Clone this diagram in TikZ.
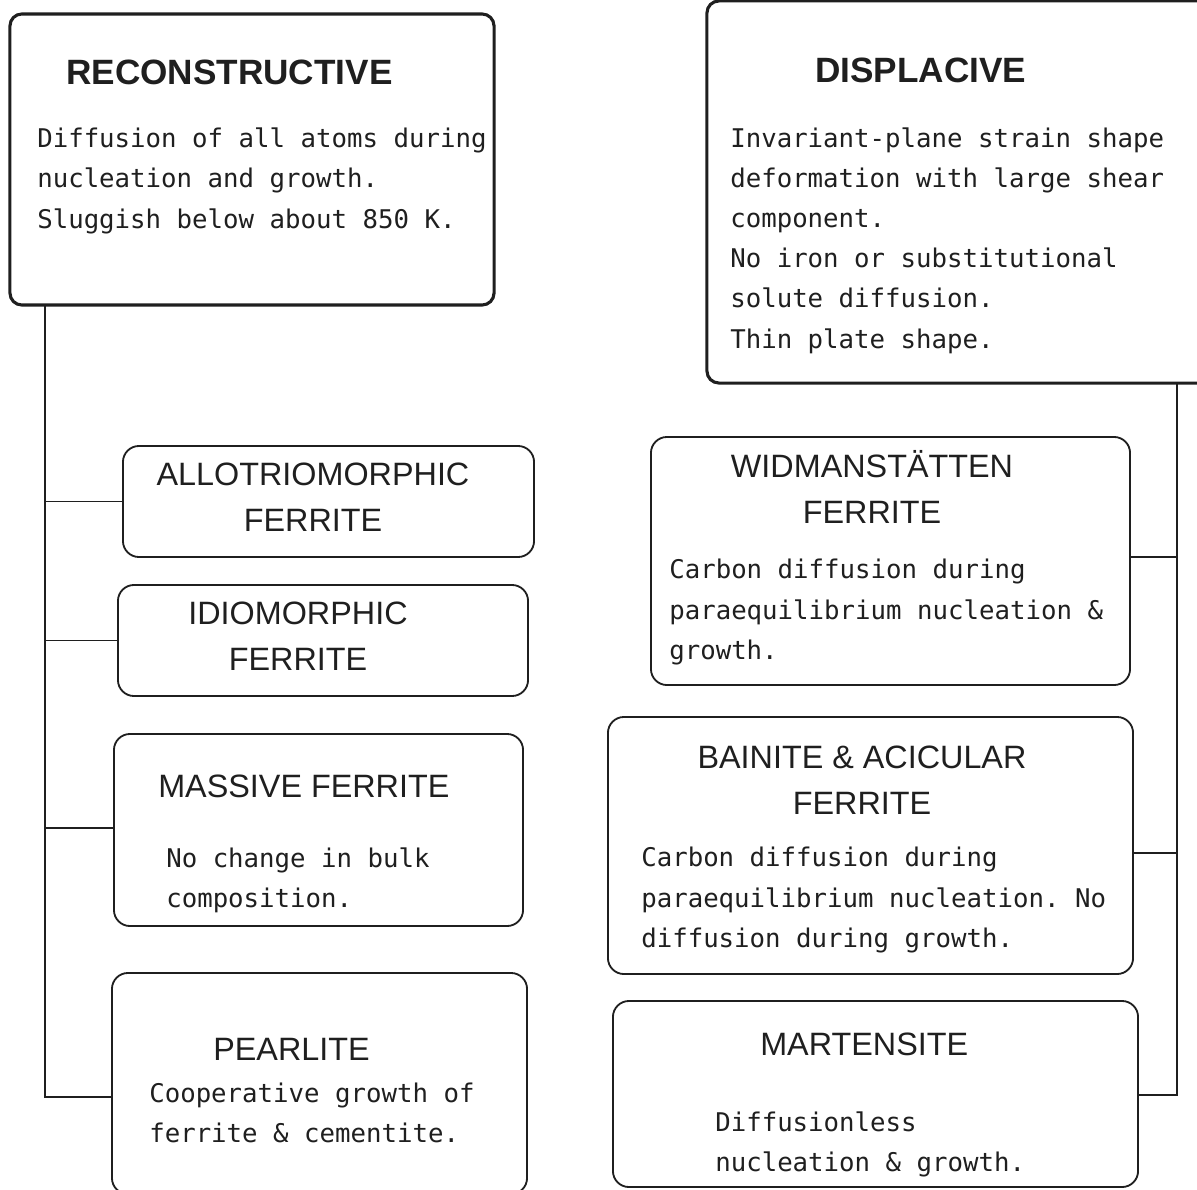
\documentclass[tikz,border=0pt]{standalone}
\usepackage{fontspec}
\usepackage{tikz}
\usetikzlibrary{positioning}
\newfontfamily\headfont{Liberation Sans}
\newfontfamily\bodyfont{DejaVu Sans Mono}
\definecolor{linecolor}{rgb}{0.12, 0.12, 0.12}
\frenchspacing

\begin{document}
\begin{tikzpicture}[x=0.025cm, y=-0.025cm,
			mainbox/.style={draw=linecolor, line width=2.2pt, rounded corners=0.3cm, inner sep=0pt},
			subbox/.style={draw=linecolor, line width=1.3pt, rounded corners=0.4cm, inner sep=0pt},
			heading/.style={font=\headfont\bfseries\fontsize{25}{30}\selectfont, text=linecolor, inner sep=0pt, anchor=base west},
			kind/.style={font=\headfont\fontsize{23}{32.7}\selectfont, text=linecolor, inner sep=0pt, align=center, anchor=base},
			notes/.style={font=\bodyfont\fontsize{18.3}{28.45}\selectfont, text=linecolor, inner sep=0pt, align=left, anchor=base west},
			link/.style={draw=linecolor, line width=1.3pt},
		]
		\useasboundingbox (0,0) rectangle (1197,1190);

		% the two families (text nodes sit on the baseline of their last line)
		\node[mainbox, minimum width=12.1cm, minimum height=7.275cm] (rec) at (252,159.5) {};
		\node[mainbox, minimum width=12.7cm, minimum height=9.55cm]  (dis) at (961,192)   {};

		\node[heading] (rec-t) at (66,84)  {RECONSTRUCTIVE};
		\node[notes]   (rec-b) at (37,228) {Diffusion of all atoms during\\nucleation and growth.\\Sluggish below about 850 K.};

		\node[heading] (dis-t) at (815,82)  {DISPLACIVE};
		\node[notes]   (dis-b) at (730,348) {Invariant-plane strain shape\\deformation with large shear\\component.\\No iron or substitutional\\solute diffusion.\\Thin plate shape.};

		% reconstructive products
		\node[subbox, minimum width=10.275cm, minimum height=2.775cm] (allo)  at (328.5,501.5)  {};
		\node[subbox, minimum width=10.25cm,  minimum height=2.775cm] (idio)  at (323,640.5)    {};
		\node[subbox, minimum width=10.225cm, minimum height=4.8cm]   (mass)  at (318.5,830)    {};
		\node[subbox, minimum width=10.375cm, minimum height=5.525cm] (pearl) at (319.5,1083.5) {};

		\node[kind] (allo-t) at (313,531) {ALLOTRIOMORPHIC\\FERRITE};
		\node[kind] (idio-t) at (298,670) {IDIOMORPHIC\\FERRITE};
		\node[kind, anchor=base west] (mass-t) at (158,797) {MASSIVE FERRITE};
		\node[notes] (mass-b) at (166,907) {No change in bulk\\composition.};
		\node[kind, anchor=base west] (pearl-t) at (213,1060) {PEARLITE};
		\node[notes] (pearl-b) at (149,1142) {Cooperative growth of\\ferrite \& cementite.};

		% displacive products
		\node[subbox, minimum width=11.975cm, minimum height=6.2cm]   (widm) at (890.5,561)  {};
		\node[subbox, minimum width=13.125cm, minimum height=6.425cm] (bain) at (870.5,845.5) {};
		\node[subbox, minimum width=13.125cm, minimum height=4.65cm]  (mart) at (875.5,1094) {};

		\node[kind]  (widm-t) at (872,523) {WIDMANSTÄTTEN\\FERRITE};
		\node[notes] (widm-b) at (669,659) {Carbon diffusion during\\paraequilibrium nucleation \&\\growth.};
		\node[kind]  (bain-t) at (862,814) {BAINITE \& ACICULAR\\FERRITE};
		\node[notes] (bain-b) at (641,947) {Carbon diffusion during\\paraequilibrium nucleation. No\\diffusion during growth.};
		\node[kind, anchor=base west] (mart-t) at (760,1055) {MARTENSITE};
		\node[notes] (mart-b) at (715,1171) {Diffusionless\\nucleation \& growth.};

		% trunks and branches
		\coordinate (lt) at (45,305);
		\coordinate (lb) at (45,1097);
		\coordinate (rt) at (1177,383);
		\coordinate (rb) at (1177,1095);

		\draw[link] (lt) -- (lb) -- (lb -| pearl.west);
		\draw[link] (allo.west) -- (allo.west -| lt);
		\draw[link] (idio.west) -- (idio.west -| lt);
		\draw[link] (mass.west |- 0,828) -- (lt |- 0,828);

		\draw[link] (rt) -- (rb) -- (rb -| mart.east);
		\draw[link] (widm.east |- 0,557) -- (rt |- 0,557);
		\draw[link] (bain.east |- 0,853) -- (rt |- 0,853);

		\end{tikzpicture}
\end{document}
